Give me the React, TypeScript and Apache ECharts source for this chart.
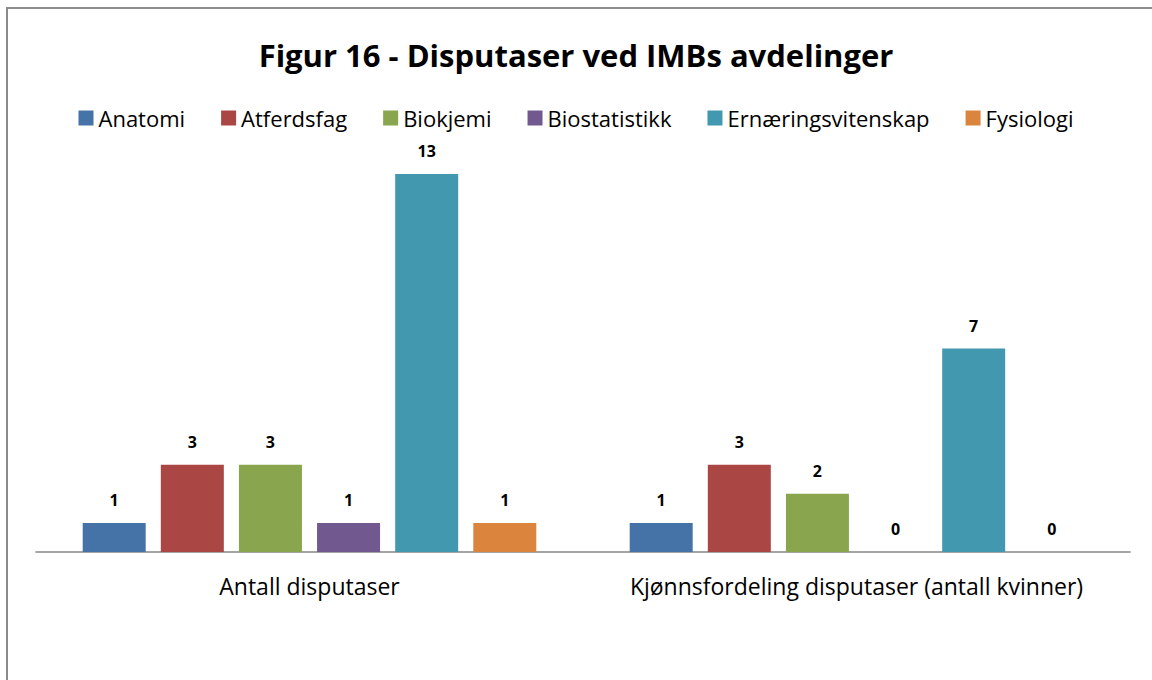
import React, { useEffect, useRef } from "react";
import * as echarts from "echarts";

const categories = ["Antall disputaser", "Kjønnsfordeling disputaser (antall kvinner)"];
const seriesNames = ["Anatomi", "Atferdsfag", "Biokjemi", "Biostatistikk", "Ernæringsvitenskap", "Fysiologi"];
const anatomi = [1, 1];
const atferdsfag = [3, 3];
const biokjemi = [3, 2];
const biostatistikk = [1, 0];
const ernaering = [13, 7];
const fysiologi = [1, 0];
const colors = ["#4572A7", "#AA4643", "#89A54E", "#71588F", "#4198AF", "#DB843D"];

const FONT = "'Open Sans', 'Noto Sans', sans-serif";

export default function App() {
  const ref = useRef<HTMLDivElement>(null);
  useEffect(() => {
    if (!ref.current) return;
    const chart = echarts.init(ref.current, undefined, { renderer: "svg" });
    const values = [anatomi, atferdsfag, biokjemi, biostatistikk, ernaering, fysiologi];
    chart.setOption({
      animation: false,
      backgroundColor: "#ffffff",
      title: {
        text: "Figur 16 - Disputaser ved IMBs avdelinger",
        left: "center",
        top: 34,
        textStyle: { fontFamily: FONT, fontWeight: "bold", fontSize: 31, color: "#000" },
      },
      legend: {
        top: 102,
        left: "center",
        itemWidth: 15,
        itemHeight: 15,
        itemGap: 36,
        icon: "rect",
        textStyle: { fontFamily: FONT, fontSize: 22, color: "#000" },
      },
      grid: { left: 36, right: 22, top: 145, bottom: 128 },
      xAxis: {
        type: "category",
        data: categories,
        axisLine: { lineStyle: { color: "#868686", width: 1.5 } },
        axisTick: { show: false },
        axisLabel: { fontFamily: FONT, fontSize: 23, color: "#000", margin: 22, interval: 0 },
      },
      yAxis: { type: "value", min: 0, max: 14, show: false, splitLine: { show: false } },
      series: seriesNames.map((name, i) => ({
        name,
        type: "bar",
        data: values[i],
        barWidth: 63,
        barGap: "24%",
        itemStyle: { color: colors[i] },
        label: {
          show: true,
          position: "top",
          distance: 15,
          fontFamily: FONT,
          fontWeight: "bold",
          fontSize: 16,
          color: "#000",
        },
      })),
      graphic: [
        {
          type: "rect",
          shape: { x: 7, y: 8, width: 1200, height: 700 },
          style: { fill: "none", stroke: "#8a8a8a", lineWidth: 2 },
          silent: true,
        },
      ],
    });
    return () => chart.dispose();
  }, []);
  return <div ref={ref} style={{ position: "fixed", left: 0, top: 0, width: 1152, height: 680 }} />;
}
